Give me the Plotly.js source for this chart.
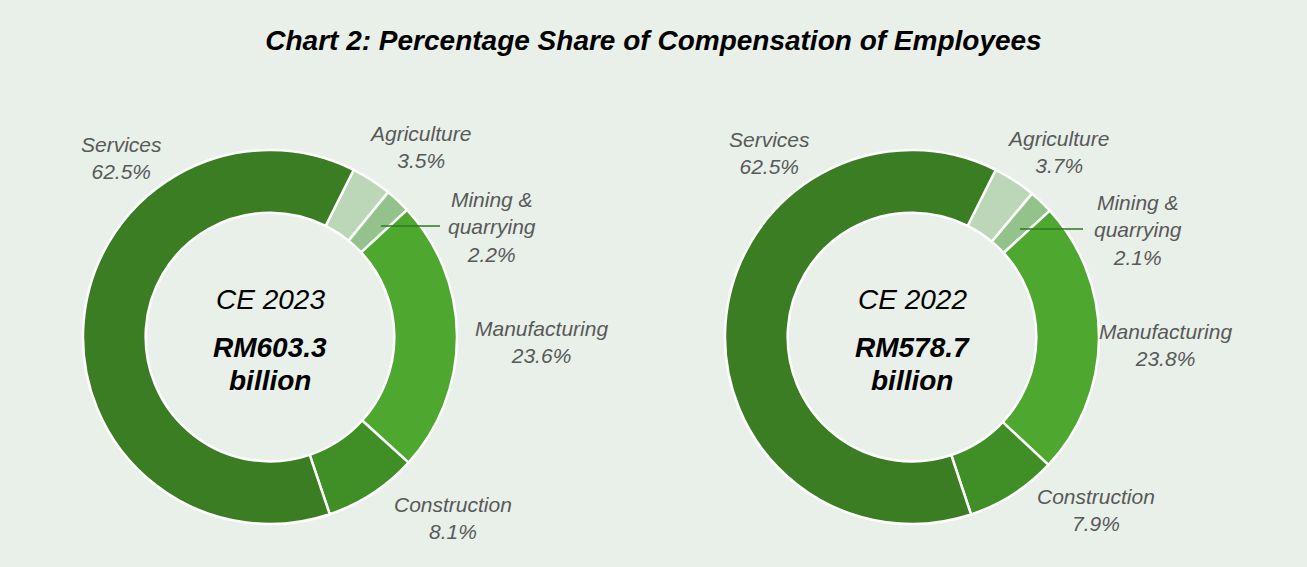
<!DOCTYPE html>
<html>
<head>
<meta charset="utf-8">
<script src="https://cdn.plot.ly/plotly-3.0.1.min.js"></script>
<style>html,body{margin:0;padding:0;background:#e8f0e9;}#chart{width:1307px;height:567px;}</style>
</head>
<body>
<div id="chart"></div>
<script>
// ---- data ----
const chartTitle = 'Chart 2: Percentage Share of Compensation of Employees';
const sectors = ['Agriculture', 'Mining &<br>quarrying', 'Manufacturing', 'Construction', 'Services'];
const share2023 = [3.5, 2.2, 23.6, 8.1, 62.5];
const share2022 = [3.7, 2.1, 23.8, 7.9, 62.5];
const centreYear = ['CE 2023', 'CE 2022'];
const centreTotal = ['RM603.3', 'RM578.7'];
const centreUnit = 'billion';

// ---- styling ----
const W = 1307, H = 567;
const colors = ['#bcd6b8', '#93c38a', '#4ea72e', '#3f8e26', '#3a7d22'];
const px = x => x / W;
const py = y => 1 - y / H;
const R = 187;
const centres = [[270, 337], [912, 337]];
// label positions (pixels) for each donut, same order as sectors
const labelPos = [
  [[420, 146.5], [492, 227], [541, 342], [453, 517.5], [121, 157.5]],
  [[1058, 152.5], [1138, 229.5], [1165, 344.5], [1096, 510], [769, 153]]
];
const leaderLines = [[381, 226, 440, 226], [1020, 229, 1083, 229]];

const series = [share2023, share2022];
const traces = series.map((vals, i) => {
  const [cx, cy] = centres[i];
  return {
    type: 'pie',
    values: vals,
    labels: sectors,
    sort: false,
    direction: 'clockwise',
    rotation: 26.6,
    hole: 0.665,
    textinfo: 'none',
    hoverinfo: 'label+percent',
    marker: {colors: colors, line: {color: '#ffffff', width: 2.5}},
    domain: {x: [px(cx - R), px(cx + R)], y: [py(cy + R), py(cy - R)]},
    showlegend: false
  };
});

const annotations = [];
series.forEach((vals, i) => {
  vals.forEach((v, k) => {
    const [lx, ly] = labelPos[i][k];
    annotations.push({
      xref: 'paper', yref: 'paper', x: px(lx), y: py(ly),
      xanchor: 'center', yanchor: 'middle', showarrow: false, align: 'center',
      text: '<i>' + sectors[k] + '<br>' + v.toFixed(1) + '%</i>',
      font: {family: 'Liberation Sans, Arial, sans-serif', size: 21, color: '#595959'}
    });
  });
  const [cx] = centres[i];
  annotations.push({
    xref: 'paper', yref: 'paper', x: px(cx), y: py(299), xanchor: 'center', yanchor: 'middle',
    showarrow: false, text: '<i>' + centreYear[i] + '</i>',
    font: {family: 'Liberation Sans, Arial, sans-serif', size: 28, color: '#000000'}
  });
  annotations.push({
    xref: 'paper', yref: 'paper', x: px(cx), y: py(347), xanchor: 'center', yanchor: 'middle',
    showarrow: false, text: '<b><i>' + centreTotal[i] + '</i></b>',
    font: {family: 'Liberation Sans, Arial, sans-serif', size: 28, color: '#000000'}
  });
  annotations.push({
    xref: 'paper', yref: 'paper', x: px(cx), y: py(380), xanchor: 'center', yanchor: 'middle',
    showarrow: false, text: '<b><i>' + centreUnit + '</i></b>',
    font: {family: 'Liberation Sans, Arial, sans-serif', size: 28, color: '#000000'}
  });
});

const shapes = leaderLines.map(l => ({
  type: 'line', xref: 'paper', yref: 'paper',
  x0: px(l[0]), y0: py(l[1]), x1: px(l[2]), y1: py(l[3]),
  line: {color: '#2e7a1f', width: 1.5}
}));

const layout = {
  width: W, height: H,
  margin: {l: 0, r: 0, t: 0, b: 0},
  paper_bgcolor: '#e8f0e9',
  plot_bgcolor: '#e8f0e9',
  title: {
    text: '<b><i>' + chartTitle + '</i></b>',
    x: 0.5, xanchor: 'center', y: py(40), yanchor: 'middle', yref: 'container',
    font: {family: 'Liberation Sans, Arial, sans-serif', size: 28, color: '#000000'}
  },
  annotations: annotations,
  shapes: shapes,
  showlegend: false
};

Plotly.newPlot('chart', traces, layout, {displayModeBar: false, staticPlot: true});
</script>
</body>
</html>
